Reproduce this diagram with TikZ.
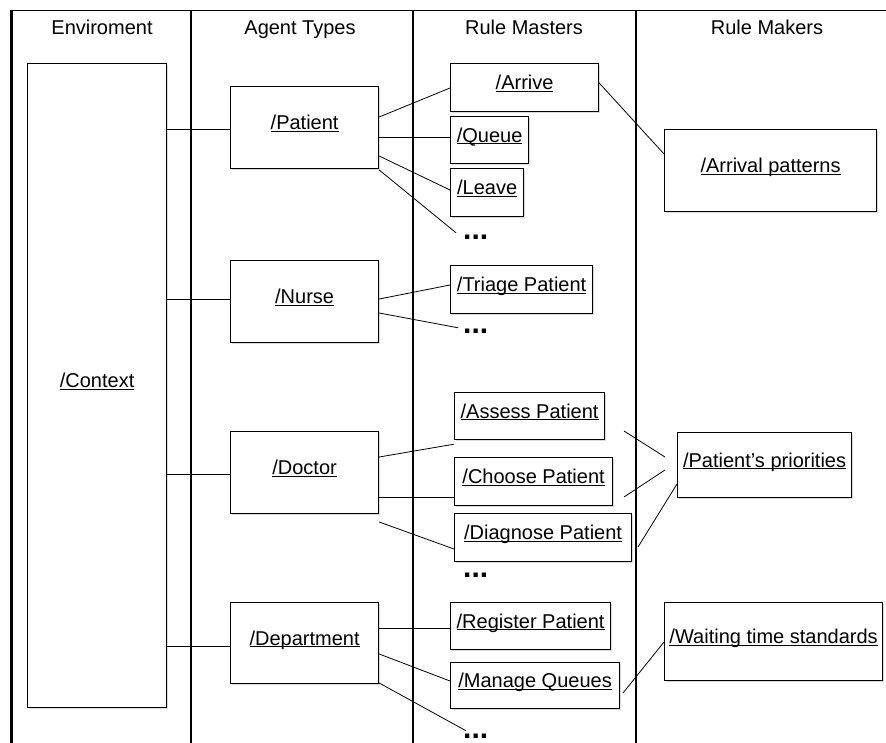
\documentclass[tikz,border=0pt]{standalone}
\usepackage{fontspec}
\setmainfont{Liberation Sans}
\usepackage{tikz}
\usetikzlibrary{shadows}
\newcommand{\ulab}[1]{\setbox0\hbox{#1}\rlap{\rule[-2.3pt]{\wd0}{1.1pt}}\box0}
\tikzset{
  box/.style     = {draw,line width=1.2pt,fill=white,anchor=north west,inner sep=2pt,
                    text height=15pt,text depth=11pt,font=\fontsize{20}{24}\selectfont,
                    drop shadow={shadow xshift=1.4pt,shadow yshift=-1.4pt,opacity=.3}},
  head/.style    = {anchor=base,font=\fontsize{20}{24}\selectfont},
  more/.style    = {anchor=base west,inner sep=0pt,font=\fontsize{30}{30}\selectfont\bfseries},
  link/.style    = {line width=0.8pt},
  lane/.style    = {line width=1.1pt}
}

\begin{document}
\begin{tikzpicture}[x=1pt,y=-1pt]
  \useasboundingbox (0,0) rectangle (886,743);
  % lanes
  \draw[line width=3pt] (11,10.5) -- (11,743);
  \draw[line width=1.5pt] (11,10.5) -- (886,10.5);
  \draw[lane] (191,10.5) -- (191,743);
  \draw[lane] (413,10.5) -- (413,743);
  \draw[line width=2.4pt] (636,10.5) -- (636,743);
  \node[head] (hEnv)    at (102,35) {Enviroment};
  \node[head] (hAgent)  at (300,35) {Agent Types};
  \node[head] (hMaster) at (524,35) {Rule Masters};
  \node[head] (hMaker)  at (767,35) {Rule Makers};
  % environment and agent types
  \node[box,minimum width=139,minimum height=644] (context)    at (27,63)   {\ulab{/Context}};
  \node[box,minimum width=148,minimum height=82]  (patient)    at (230,86)  {\ulab{/Patient}};
  \node[box,minimum width=148,minimum height=82]  (nurse)      at (230,260) {\ulab{/Nurse}};
  \node[box,minimum width=148,minimum height=82]  (doctor)     at (230,431) {\ulab{/Doctor}};
  \node[box,minimum width=148,minimum height=81]  (department) at (230,602) {\ulab{/Department}};
  % rule masters
  \node[box,minimum width=148,minimum height=48] (arrive)   at (450,63)  {\ulab{/Arrive}};
  \node[box,minimum width=78,minimum height=47]  (queue)    at (450,116) {\ulab{/Queue}};
  \node[box,minimum width=73,minimum height=48]  (leave)    at (450,168) {\ulab{/Leave}};
  \node[more] (dotsP) at (463,240) {...};
  \node[box,minimum width=142,minimum height=48] (triage)   at (450,265) {\ulab{/Triage Patient}};
  \node[more] (dotsN) at (463,333) {...};
  \node[box,minimum width=150,minimum height=47] (assess)   at (454,392) {\ulab{/Assess Patient}};
  \node[box,minimum width=158,minimum height=48] (choose)   at (454,457) {\ulab{/Choose Patient}};
  \node[box,minimum width=177,minimum height=48] (diagnose) at (454,513) {\ulab{/Diagnose Patient}};
  \node[more] (dotsDg) at (463,577) {...};
  \node[box,minimum width=160,minimum height=47] (register) at (450,602) {\ulab{/Register Patient}};
  \node[box,minimum width=169,minimum height=46] (manage)   at (450,662) {\ulab{/Manage Queues}};
  \node[more] (dotsD) at (463,738) {...};
  % rule makers
  \node[box,minimum width=212,minimum height=82] (arrival)    at (664,129) {\ulab{/Arrival patterns}};
  \node[box,minimum width=174,minimum height=65] (priorities) at (677,432) {\ulab{/Patient\char39 s priorities}};
  \node[box,minimum width=218,minimum height=78] (waiting)    at (664,602) {\ulab{/Waiting time standards}};
  % context to agents
  \draw[link] (context.east |- 0,129) -- (patient.west |- 0,129);
  \draw[link] (context.east |- 0,299) -- (nurse.west |- 0,299);
  \draw[link] (context.east |- 0,474) -- (doctor.west |- 0,474);
  \draw[link] (context.east |- 0,646) -- (department.west |- 0,646);
  % agents to rule masters
  \draw[link] (patient.east |- 0,117) -- (arrive.west |- 0,88);
  \draw[link] (patient.east |- 0,137) -- (queue.west |- 0,137);
  \draw[link] (patient.east |- 0,156) -- (leave.west |- 0,190);
  \draw[link] (patient.east |- 0,170) -- ([xshift=-7pt,yshift=5pt]dotsP.west);
  \draw[link] (nurse.east |- 0,299) -- (triage.west |- 0,285);
  \draw[link] (nurse.east |- 0,313) -- ([xshift=-5pt,yshift=3pt]dotsN.west);
  \draw[link] (doctor.east |- 0,457) -- ([yshift=-4pt]assess.south west);
  \draw[link] (doctor.east |- 0,497) -- (choose.west |- 0,497);
  \draw[link] (doctor.east |- 0,522) -- (diagnose.west |- 0,549);
  \draw[link] (department.east |- 0,628) -- (register.west |- 0,628);
  \draw[link] (department.east |- 0,654) -- (manage.west |- 0,681);
  \draw[link] (department.east |- 0,683) -- ([xshift=3pt,yshift=5pt]dotsD.west);
  % rule masters to rule makers
  \coordinate (pr1) at (624,431);
  \coordinate (pr2) at (665,457);
  \coordinate (pr3) at (624,497);
  \coordinate (pr4) at (665,470);
  \coordinate (pr5) at (638,547);
  \coordinate (wt1) at (623,693);
  \draw[link] (arrive.east |- 0,83) -- (arrival.west |- 0,154);
  \draw[link] (pr1) -- (pr2);
  \draw[link] (pr3) -- (pr4);
  \draw[link] (pr5) -- (priorities.west |- 0,484);
  \draw[link] (wt1) -- (waiting.west |- 0,642);
\end{tikzpicture}
\end{document}
